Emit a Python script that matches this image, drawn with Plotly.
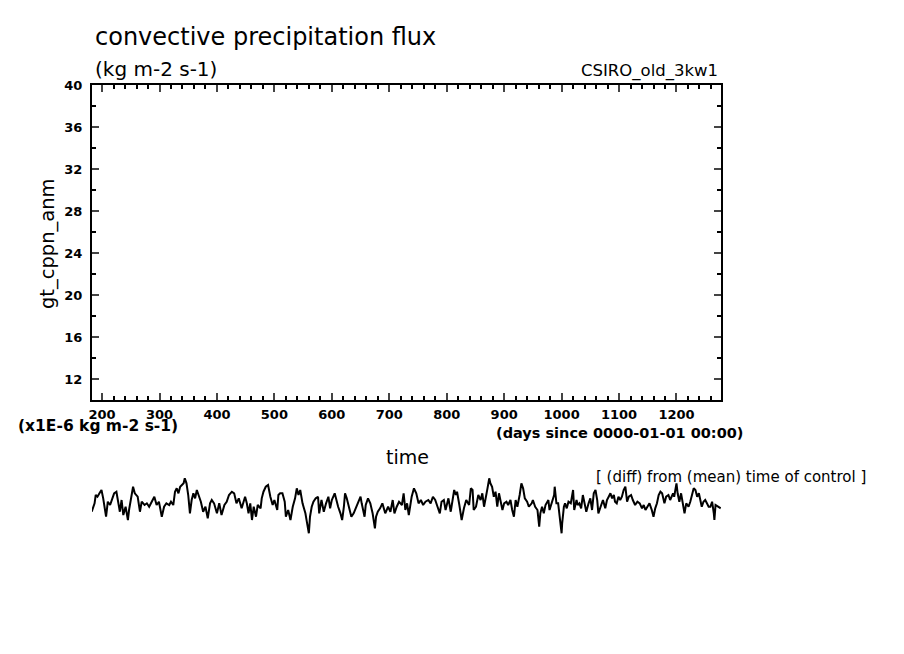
import plotly.graph_objs as go

# anomaly series, days since 0000-01-01 vs value (x1E-6 kg m-2 s-1)
days = [182, 187, 189, 192, 196, 199, 202, 205, 207, 210, 214, 218, 221, 225, 228, 231, 234, 237, 241, 245,
        247, 250, 254, 257, 262, 266, 269, 274, 278, 282, 286, 291, 295, 299, 304, 308, 312, 317, 320, 324,
        327, 330, 333, 336, 339, 342, 344, 347, 350, 353, 356, 359, 362, 365, 368, 372, 376, 380, 384, 388,
        391, 395, 400, 404, 408, 413, 417, 421, 426, 430, 434, 438, 443, 449,
        452, 455, 458, 461, 464, 468, 471, 476, 478, 481, 485, 489, 493, 497, 500, 505, 507, 510, 514, 518,
        520, 524, 528, 532, 536, 539, 542, 545, 549, 554, 557, 560, 562, 565, 568, 572, 576, 578, 582, 586,
        590, 594, 597, 600, 605, 607, 611, 615, 618, 621, 623, 626, 630, 634, 638, 642, 646, 650, 652, 657,
        659, 663, 667, 671, 675, 677, 680, 684, 688, 693, 698, 702, 706, 709, 713, 717, 722, 725,
        728, 731, 734, 739, 743, 747, 751, 755, 759, 763, 768, 772, 776, 780, 784, 788, 791, 795, 798, 803,
        807, 810, 813, 816, 818, 822, 826, 830, 834, 839, 842, 845, 847, 851, 855, 859, 862, 865, 868, 871,
        874, 876, 879, 882, 885, 888, 891, 894, 897, 900, 904, 907, 911, 914, 917, 920, 923, 927, 930, 933,
        936, 940, 943, 948, 950, 954, 958, 961, 963, 966, 969, 972, 977, 979, 983, 987, 988, 991, 994, 997,
        1000,
        1001, 1004, 1006, 1009, 1012, 1016, 1020, 1022, 1026, 1028, 1031, 1034, 1037, 1040, 1043, 1047, 1050,
        1053, 1056, 1059, 1062, 1064, 1069, 1072, 1076, 1079, 1082, 1085, 1088, 1091, 1093, 1096, 1099, 1102,
        1105, 1108, 1111, 1114, 1117, 1121, 1124, 1128, 1132, 1136, 1140, 1143, 1146, 1150, 1153, 1157, 1160,
        1163, 1166, 1169, 1172, 1175, 1179, 1182, 1186, 1189, 1194, 1196, 1200, 1202, 1205, 1208, 1211, 1214,
        1217, 1221, 1224, 1227, 1230, 1233, 1236, 1239, 1241, 1244, 1247, 1250, 1253, 1256, 1259, 1262, 1265,
        1266, 1268, 1272, 1275, 1277]

anom = [-0.67, 0.17, 1.0, 0.83, 1.23, 1.5, 0.67, -0.5, -1.17, 0.33, 0.0, 0.67, 1.17, 1.33, 0.33, -0.67, 0.5, -1.0, -0.17, -1.5,
        -0.5, 0.5, 1.83, 1.17, 0.83, -0.67, 0.33, 0.0, 0.17, -0.17, 0.33, 0.83, 0.0, 0.33, -1.17, -0.17, 0.17, 0.0, 0.33, 0.0,
        1.33, 1.67, 1.17, 1.83, 2.0, 2.17, 2.67, 2.17, 1.0, -0.83, 0.5, 1.17, 0.67, 1.5, 1.0, 0.33, -0.67, -0.17, -1.33, 0.17,
        0.5, 0.17, -0.83, 0.17, -1.0, 0.0, 0.33, 1.0, 1.33, 1.17, 0.17, 0.67, -0.33, 0.83,
        0.17, -0.83, 0.17, -1.5, -0.17, -1.17, 0.0, -0.33, 0.67, 1.33, 1.83, 2.0, 0.83, 0.0, 0.5, -0.5, 1.0, 1.17, 1.17, 0.33,
        -1.17, -0.5, -1.5, -0.17, 0.67, 1.67, 1.0, 1.5, 0.17, -0.83, -1.83, -2.83, -1.17, -0.17, 0.33, 0.67, 0.83, -0.83, 0.5, -0.67,
        0.17, 0.83, -0.33, 0.5, 1.17, 0.67, -0.17, -0.83, -1.5, -0.17, 1.17, 0.67, -0.17, -1.17, -0.83, -0.33, 0.17, 0.83, 0.17, -1.17,
        0.0, 0.67, 0.17, -0.83, -2.33, -1.17, -0.67, -0.33, 0.17, -0.83, -0.17, -0.67, 0.5, -0.83, -0.17, 0.33, 0.0, 1.17,
        -0.5, 0.17, -1.0, 0.83, 1.67, 1.17, 0.17, 0.5, 0.0, 0.33, 0.5, 0.17, 0.83, 0.5, -0.17, -0.83, 0.33, 0.5, -0.5, 0.67,
        -0.67, 0.33, 1.5, 1.0, 1.33, 0.0, -1.5, -0.33, 0.5, 0.0, 1.67, 1.5, -0.5, -0.17, 1.0, 0.5, 1.17, -0.17, 1.0, 1.67,
        2.67, 2.17, 1.83, 0.83, 1.33, -0.17, 1.17, 0.17, -0.5, 0.17, 0.33, 0.0, 0.5, -0.5, -1.17, 0.5, -0.17, 1.0, 2.17, 1.67,
        0.67, 0.33, -0.17, 0.17, 0.5, -0.17, -0.5, -2.17, -0.83, -0.17, -0.83, 0.0, 0.5, -0.5, 0.33, 1.0, 1.83, 0.17, 0.17, -1.17,
        -2.83,
        -1.83, -0.17, 0.17, -0.33, 0.33, 0.17, 1.5, -0.5, 0.5, 0.0, 0.17, -0.33, 1.0, 0.17, -0.67, 0.17, 0.67,
        -0.5, 1.17, 1.5, 0.5, -0.83, 0.17, 0.5, -0.33, 0.5, 0.83, 1.17, 0.67, 1.0, 0.33, 0.17, 0.83, 0.5,
        0.83, 1.5, 1.83, 0.33, 0.83, 1.0, 0.5, 0.0, 0.33, 0.17, -0.33, 0.0, -0.5, -0.17, 0.17, -0.5, -1.17,
        -0.33, 0.17, 1.0, 1.33, 1.17, 0.17, 0.83, 1.0, 0.5, 1.17, 0.83, 2.17, 1.17, 0.33, 1.17, 0.17, -0.83,
        0.17, -0.17, 0.33, 1.0, 1.67, 1.5, 0.83, 1.17, 0.5, -0.17, 0.33, 0.5, 0.17, -0.17, -0.17, 0.33, -0.83,
        -1.5, 0.0, -0.17, -0.33, -0.33]

x_range = [182.5, 1277.5]
y_range = [10, 40]

fig = go.Figure()

# main (empty) panel
fig.add_trace(go.Scatter(x=[], y=[], mode='lines', showlegend=False, xaxis='x', yaxis='y'))

# the anomaly line drawn below the panel
fig.add_trace(go.Scatter(
    x=days, y=anom, mode='lines', showlegend=False,
    line=dict(color='black', width=2),
    xaxis='x2', yaxis='y2', hoverinfo='skip'
))

tick_font = dict(family='DejaVu Sans', size=13, color='black', weight='bold')

# the page body adds an 8px margin, so the figure is 8px smaller than the window
fig.update_layout(
    width=896,
    height=646,
    margin=dict(l=84, r=183, t=77, b=114),
    plot_bgcolor='white',
    paper_bgcolor='white',
    xaxis=dict(
        range=x_range, anchor='y', domain=[0, 1],
        tick0=200, dtick=100, ticks='inside', ticklen=7, tickwidth=2,
        minor=dict(dtick=20, ticks='inside', ticklen=4, tickwidth=1.5, tickcolor='black'),
        showline=True, linewidth=2, linecolor='black', mirror='ticks',
        showgrid=False, zeroline=False, tickfont=tick_font, ticklabelstandoff=1
    ),
    yaxis=dict(
        range=y_range, anchor='x', domain=[0.3077, 1],
        tick0=12, dtick=4, ticks='inside', ticklen=7, tickwidth=2,
        minor=dict(dtick=2, ticks='inside', ticklen=4, tickwidth=1.5, tickcolor='black'),
        showline=True, linewidth=2, linecolor='black', mirror='ticks',
        showgrid=False, zeroline=False, tickfont=tick_font, ticklabelstandoff=5
    ),
    xaxis2=dict(range=x_range, anchor='y2', domain=[0, 1], visible=False),
    yaxis2=dict(range=[-3.5, 3.5], anchor='x2', domain=[0, 0.1538], visible=False),
    annotations=[
        dict(text='convective precipitation flux', x=0.0016, y=1.1055, xref='paper', yref='paper',
             xanchor='left', yanchor='middle', showarrow=False,
             font=dict(family='DejaVu Sans', size=24, color='black')),
        dict(text='(kg m-2 s-1)', x=0.0016, y=1.035, xref='paper', yref='paper',
             xanchor='left', yanchor='middle', showarrow=False,
             font=dict(family='DejaVu Sans', size=20, color='black')),
        dict(text='CSIRO_old_3kw1', x=0.998, y=1.031, xref='paper', yref='paper',
             xanchor='right', yanchor='middle', showarrow=False,
             font=dict(family='DejaVu Sans', size=16.5, color='black')),
        dict(text='gt_cppn_anm', x=-0.0715, y=0.6505, xref='paper', yref='paper',
             xanchor='center', yanchor='middle', textangle=-90, showarrow=False,
             font=dict(family='DejaVu Sans', size=19.5, color='black')),
        dict(text='(x1E-6 kg m-2 s-1)', x=-0.1208, y=0.2505, xref='paper', yref='paper',
             xanchor='left', yanchor='middle', showarrow=False,
             font=dict(family='DejaVu Sans', size=15.5, color='black', weight='bold')),
        dict(text='(days since 0000-01-01 00:00)', x=1.038, y=0.235, xref='paper', yref='paper',
             xanchor='right', yanchor='middle', showarrow=False,
             font=dict(family='DejaVu Sans', size=14.5, color='black', weight='bold')),
        dict(text='time', x=0.5008, y=0.1824, xref='paper', yref='paper',
             xanchor='center', yanchor='middle', showarrow=False,
             font=dict(family='DejaVu Sans', size=19, color='black')),
        dict(text='[ (diff) from (mean) time of control ]', x=0.798, y=0.1385, xref='paper', yref='paper',
             xanchor='left', yanchor='middle', showarrow=False,
             font=dict(family='DejaVu Sans', size=15, color='black')),
    ]
)

fig.write_html("out.html")
